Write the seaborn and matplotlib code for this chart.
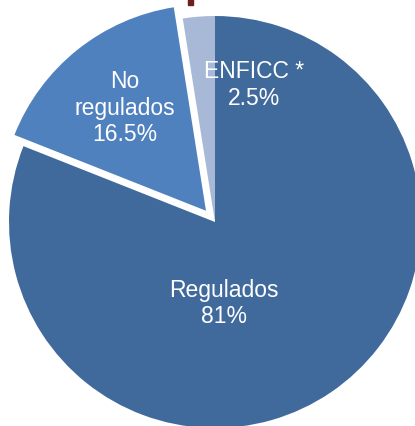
import matplotlib
matplotlib.use("Agg")
import matplotlib.pyplot as plt
import seaborn as sns
from matplotlib.patches import Rectangle

# data
categories = ["Regulados", "No\nregulados", "ENFICC *"]
shares = [81.0, 16.5, 2.5]
share_labels = ["81%", "16.5%", "2.5%"]
explode = [0.0, 0.07, 0.0]
colors = ["#416a9c", "#4e81bd", "#a8b9d7"]

sns.set_theme(style="white")
plt.rcParams["font.family"] = ["Liberation Sans", "DejaVu Sans"]

W, H, DPI = 415, 427, 100
fig = plt.figure(figsize=(W / DPI, H / DPI), dpi=DPI)
ax = fig.add_axes([0, 0, 1, 1])

wedges, _ = ax.pie(shares, colors=colors, explode=explode, startangle=90,
                   counterclock=False, radius=1.0,
                   wedgeprops=dict(linewidth=0))

# pie centre sits at (215, 223) px, radius 206 px
cx, cy, r = 215, 223, 206
ax.set_xlim(-cx / r, (W - cx) / r)
ax.set_ylim(-(H - cy) / r, cy / r)
ax.set_aspect("auto")
ax.axis("off")

# label positions (in radius units, relative to the centre)
label_pos = [(0.044, -0.39), (-0.437, 0.558), (0.19, 0.67)]
for name, lab, (lx, ly) in zip(categories, share_labels, label_pos):
    ax.text(lx, ly, f"{name}\n{lab}", ha="center", va="center",
            color="white", fontsize=16.5, linespacing=1.18)

# cut-off title marker at the top
fig.patches.append(Rectangle((188 / W, 1 - 6 / H), 5 / W, 6 / H,
                             transform=fig.transFigure, color="#6b1f1f"))

fig.savefig("out.png", dpi=DPI, facecolor="white")
